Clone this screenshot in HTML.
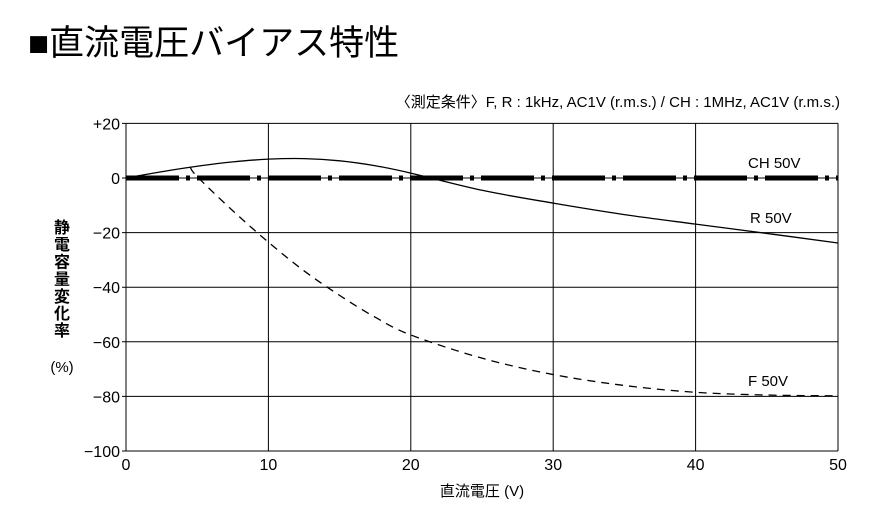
<!DOCTYPE html>
<html><head><meta charset="utf-8"><style>
body{margin:0;background:#fff;width:892px;height:506px;overflow:hidden}
svg text{font-family:"Liberation Sans","Noto Sans CJK JP",sans-serif;fill:#000}
</style></head><body>
<svg width="892" height="506">
<text x="28" y="55" font-size="35">■直流電圧バイアス特性</text>
<text x="840" y="107" font-size="15" text-anchor="end">〈測定条件〉F, R : 1kHz, AC1V (r.m.s.) / CH : 1MHz, AC1V (r.m.s.)</text>
<g id="grid"></g>
<g id="series"></g>
<g id="ylabel"></g>
<text x="62" y="372" font-size="15" text-anchor="middle">(%)</text>
<text x="482" y="496" font-size="15" text-anchor="middle">直流電圧 (V)</text>
<text x="748" y="168" font-size="15">CH 50V</text>
<text x="750" y="223" font-size="15">R 50V</text>
<text x="748" y="386" font-size="15">F 50V</text>
</svg>
<script>
const xTicks=[0,10,20,30,40,50];
const yTicks=[20,0,-20,-40,-60,-80,-100];
const yTickLabels=["+20","0","\u221220","\u221240","\u221260","\u221280","\u2212100"];
const rX=[0,2.5,5,7.5,10,12.5,15,17.5,20,25,30,35,40,45,50];
const rY=[0,2.3,4.3,5.9,6.9,7.1,6.3,4.5,1.8,-4.5,-9.2,-13.4,-16.9,-20.3,-23.8];
const fX=[4.5,5,7.5,10,12.5,15,17.5,20,25,30,35,40,45,50];
const fY=[4.0,0.5,-12,-23.5,-34,-43,-51,-57.5,-66,-72,-76,-78.5,-79.5,-79.8];
const chX=[0,50];
const chY=[0,0];
const NS="http://www.w3.org/2000/svg";
const X=v=>126+(v/50)*712;
const Y=v=>178-(v/20)*54.6;
const grid=document.getElementById('grid'),series=document.getElementById('series');
function mk(t,a,p){const e=document.createElementNS(NS,t);for(const k in a)e.setAttribute(k,a[k]);p.appendChild(e);return e;}
xTicks.forEach((t,i)=>{
 const l=mk('line',{x1:X(t),x2:X(t),y1:Y(20),y2:Y(-100),stroke:'#000','stroke-width':1},grid);
 
 
 const tx=mk('text',{x:X(t),y:Y(-100)+19,'font-size':16,'text-anchor':'middle'},grid);
 tx.textContent=t;
 
 
});
yTicks.forEach((t,i)=>{
 const l=mk('line',{x1:X(0)-4,x2:X(50),y1:Y(t),y2:Y(t),stroke:'#000','stroke-width':1},grid);
 
 
 const tx=mk('text',{x:X(0)-6,y:Y(t)+6,'font-size':16,'text-anchor':'end'},grid);
 tx.textContent=yTickLabels[i];
 
 
});
function smooth(xs,ys){
 const p=xs.map((x,i)=>[X(x),Y(ys[i])]);let d='M'+p[0][0]+','+p[0][1];
 for(let i=0;i<p.length-1;i++){const p0=p[i-1]||p[i],p1=p[i],p2=p[i+1],p3=p[i+2]||p2;
  d+=` C${p1[0]+(p2[0]-p0[0])/6},${p1[1]+(p2[1]-p0[1])/6} ${p2[0]-(p3[0]-p1[0])/6},${p2[1]-(p3[1]-p1[1])/6} ${p2[0]},${p2[1]}`;}
 return d;}
const ch=mk('line',{x1:X(chX[0]),x2:X(chX[1]),y1:Y(chY[0]),y2:Y(chY[1]),stroke:'#000','stroke-width':5,'stroke-dasharray':'53 7 4 7'},series);


const r=mk('path',{d:smooth(rX,rY),fill:'none',stroke:'#000','stroke-width':1.3},series);


const f=mk('path',{d:smooth(fX,fY),fill:'none',stroke:'#000','stroke-width':1.3,'stroke-dasharray':'8 6'},series);


const yl=document.getElementById('ylabel');
[..."静電容量変化率"].forEach((c,i)=>{const t=mk('text',{x:62,y:233+i*17.2,'font-size':16,'font-weight':'bold','text-anchor':'middle'},yl);t.textContent=c;});
</script>
</body></html>
